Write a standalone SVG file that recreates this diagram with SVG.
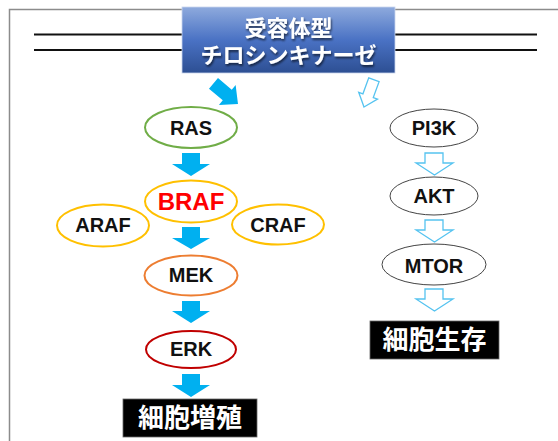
<svg xmlns="http://www.w3.org/2000/svg" width="558" height="441" viewBox="0 0 558 441">
<defs>
<linearGradient id="hdr" x1="0" y1="0" x2="0" y2="1">
<stop offset="0" stop-color="#8eaadd"/>
<stop offset="0.5" stop-color="#4a72c4"/>
<stop offset="1" stop-color="#2d4f93"/>
</linearGradient>
<filter id="sh" x="-10%" y="-10%" width="130%" height="140%">
<feGaussianBlur in="SourceAlpha" stdDeviation="1"/>
<feOffset dx="1" dy="1.5" result="b"/>
<feComponentTransfer><feFuncA type="linear" slope="0.6"/></feComponentTransfer>
<feMerge><feMergeNode/><feMergeNode in="SourceGraphic"/></feMerge>
</filter>
</defs>
<style>
.lat{font-family:"Liberation Sans",Arial,sans-serif;font-weight:bold;font-size:20px;fill:#111;text-anchor:middle}
.braf{font-size:24px;fill:#ff0000}
.jp{font-family:"Noto Sans CJK JP","Noto Sans CJK SC",sans-serif;font-weight:bold;fill:#fff;text-anchor:middle}
.hd{font-size:22px}
.big{font-size:26px}
.el{fill:#fff;stroke-width:2}
.gr{fill:#fff;stroke:#444;stroke-width:1}
.fa{fill:#00b0f0}
.oa{fill:#fff;stroke:#55c3f0;stroke-width:1.3;stroke-linejoin:miter}
.blk{fill:#000;stroke:#666;stroke-width:0.8}
</style>
<rect id="frame" x="9.5" y="9.5" width="560" height="440" fill="#fff" stroke="#8c8c8c" stroke-width="1.5"/>
<g id="membrane" stroke="#111" stroke-width="2.2">
<line x1="34" y1="34.5" x2="537" y2="34.5"/>
<line x1="34" y1="50" x2="537" y2="50"/>
</g>
<g id="rtk">
<rect x="182" y="7" width="213" height="66" fill="url(#hdr)" stroke="#c9d5ee" stroke-width="0.8"/>
<g filter="url(#sh)">
<text class="jp hd" x="288.5" y="36">受容体型</text>
<text class="jp hd" x="288.5" y="63">チロシンキナーゼ</text>
</g>
</g>
<g id="connectors">
<polygon class="fa" transform="translate(238,104) rotate(40)" points="0,0 -14,-13 -14,-7 -32,-7 -32,7 -14,7 -14,13"/>
<polygon class="oa" transform="translate(364,107) rotate(110)" points="0,0 -12,-10 -12,-5.5 -29,-5.5 -29,5.5 -12,5.5 -12,10"/>
<polygon class="fa" points="182,153 200,153 200,164 210,164 191,176 172,164 182,164"/>
<polygon class="fa" points="182,227 200,227 200,238 210,238 191,249 172,238 182,238"/>
<polygon class="fa" points="182,301 200,301 200,311 210,311 191,323 172,311 182,311"/>
<polygon class="fa" points="182,374 200,374 200,385 210,385 191,397 172,385 182,385"/>
<polygon class="oa" points="425,153 443,153 443,163 453,163 434.5,175 416,163 425,163"/>
<polygon class="oa" points="425,220 443,220 443,230 453,230 434.5,242 416,230 425,230"/>
<polygon class="oa" points="425,289 443,289 443,299 453,299 434.5,311 416,299 425,299"/>
</g>
<g id="ras"><ellipse class="el" cx="191" cy="127.5" rx="46" ry="20.5" stroke="#70ad47"/><text class="lat" x="191" y="135">RAS</text></g>
<g id="braf"><ellipse class="el" cx="191" cy="201.5" rx="46" ry="21" stroke="#ffc000"/><text class="lat braf" x="191" y="210">BRAF</text></g>
<g id="araf"><ellipse class="el" cx="103" cy="225.5" rx="46" ry="21" stroke="#ffc000"/><text class="lat" x="103" y="232">ARAF</text></g>
<g id="craf"><ellipse class="el" cx="278" cy="224.5" rx="46" ry="20" stroke="#ffc000"/><text class="lat" x="278" y="232">CRAF</text></g>
<g id="mek"><ellipse class="el" cx="191" cy="275.5" rx="46.5" ry="20" stroke="#ed7d31"/><text class="lat" x="191" y="282">MEK</text></g>
<g id="erk"><ellipse class="el" cx="191" cy="349.5" rx="45" ry="18.5" stroke="#c00000"/><text class="lat" x="191" y="356">ERK</text></g>
<g id="proliferation"><rect class="blk" x="123" y="399" width="134" height="38"/><text class="jp big" x="190" y="427">細胞増殖</text></g>
<g id="pi3k"><ellipse class="gr" cx="434" cy="128" rx="44" ry="19"/><text class="lat" x="434" y="135">PI3K</text></g>
<g id="akt"><ellipse class="gr" cx="434" cy="196" rx="44" ry="19"/><text class="lat" x="434" y="203">AKT</text></g>
<g id="mtor"><ellipse class="gr" cx="434" cy="264.5" rx="52" ry="20.5"/><text class="lat" x="434" y="273">MTOR</text></g>
<g id="survival"><rect class="blk" x="370" y="321" width="129" height="38"/><text class="jp big" x="434.5" y="349">細胞生存</text></g>
</svg>
